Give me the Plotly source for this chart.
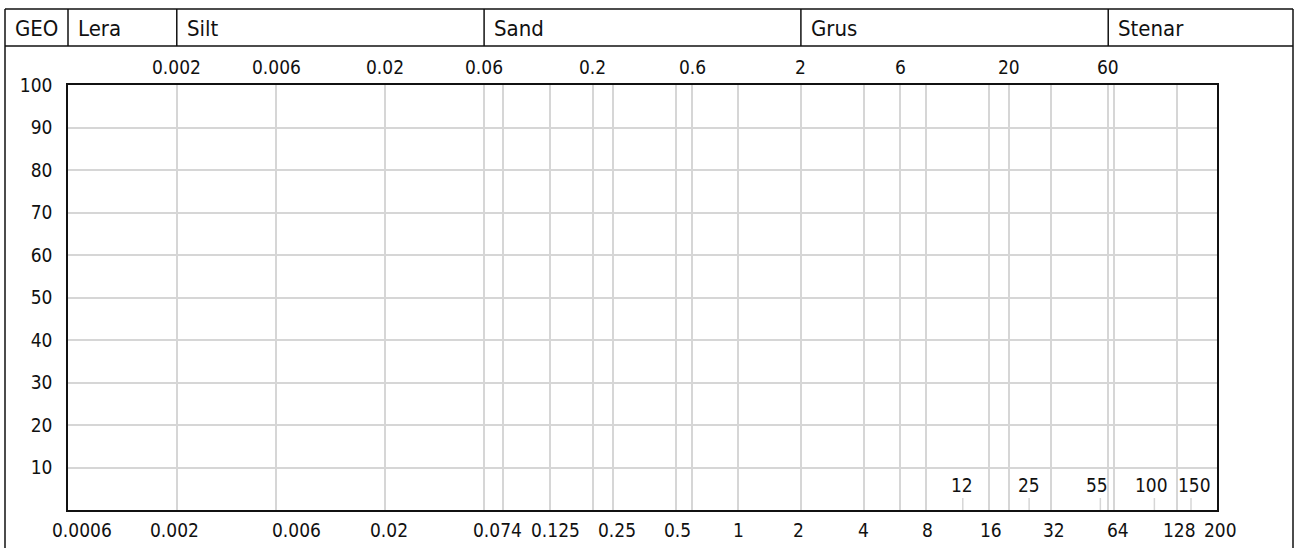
import numpy as np
import plotly.graph_objects as go

# Grain-size chart (sieve analysis) - empty template
x_min, x_max = 0.0006, 200

# vertical grid lines at the standard sieve / fraction sizes (mm)
grid_sizes = [0.002, 0.006, 0.02, 0.06, 0.074, 0.125, 0.2, 0.25, 0.5, 0.6,
              1, 2, 4, 6, 8, 16, 20, 32, 60, 64, 128]

# labels along the top edge (fraction limits)
top_sizes = [0.002, 0.006, 0.02, 0.06, 0.2, 0.6, 2, 6, 20, 60]
top_text = ["0.002", "0.006", "0.02", "0.06", "0.2", "0.6", "2", "6", "20", "60"]

# labels along the bottom edge (sieve sizes)
bottom_sizes = [0.0006, 0.002, 0.006, 0.02, 0.074, 0.125, 0.25, 0.5, 1, 2,
                4, 8, 16, 32, 64, 128, 200]
bottom_text = ["0.0006", "0.002", "0.006", "0.02", "0.074", "0.125", "0.25",
               "0.5", "1", "2", "4", "8", "16", "32", "64", "128", "200"]
bottom_shift = [14, -2, 20, 4, -6, 5, 4, 2, 0, -2, 0, 1, 2, 3, 4, 3, 3]

# extra sieves marked with short ticks inside the plot
sieve_sizes = [12, 25, 55, 100, 150]
sieve_text = ["12", "25", "55", "100", "150"]
sieve_shift = [-1, 0, -3, -3, 3]

# soil fractions in the header row
fraction_names = ["Lera", "Silt", "Sand", "Grus", "Stenar"]
fraction_lower = [0.0006, 0.002, 0.06, 2, 60]

y_ticks = [10, 20, 30, 40, 50, 60, 70, 80, 90, 100]

FONT = "DejaVu Sans Condensed"
NUM_SIZE = 19
HEAD_SIZE = 22
INK = "#111111"
GRID = "#d6d6d6"

fig = go.Figure()

# invisible trace to anchor the axes
fig.add_trace(go.Scatter(x=[x_min, x_max], y=[0, 100], mode="markers",
                         marker=dict(opacity=0), hoverinfo="skip",
                         showlegend=False))

fig.update_layout(
    width=1295, height=548,
    margin=dict(l=68, r=78, t=85, b=38),
    paper_bgcolor="white", plot_bgcolor="white",
    showlegend=False,
    font=dict(family=FONT, size=NUM_SIZE, color=INK),
    xaxis=dict(type="log", range=[np.log10(x_min), np.log10(x_max)],
               tickvals=grid_sizes, showticklabels=False, ticks="",
               showgrid=True, gridcolor=GRID, gridwidth=1.5,
               showline=True, linecolor=INK, linewidth=1.6, mirror=True,
               zeroline=False),
    yaxis=dict(range=[0, 100], tickvals=y_ticks,
               ticktext=[str(v) for v in y_ticks], ticks="",
               ticklabelstandoff=10,
               showgrid=True, gridcolor=GRID, gridwidth=1.5,
               showline=True, linecolor=INK, linewidth=1.6, mirror=True,
               zeroline=False,
               tickfont=dict(family=FONT, size=NUM_SIZE, color=INK)),
)

annotations = []
shapes = []

# top labels
for v, t in zip(top_sizes, top_text):
    annotations.append(dict(x=np.log10(v), y=1, xref="x", yref="paper",
                            text=t, showarrow=False, xanchor="center",
                            yanchor="bottom", yshift=5,
                            font=dict(family=FONT, size=NUM_SIZE, color=INK)))

# bottom labels
for v, t, s in zip(bottom_sizes, bottom_text, bottom_shift):
    annotations.append(dict(x=np.log10(v), y=0, xref="x", yref="paper",
                            text=t, showarrow=False, xanchor="center",
                            yanchor="top", yshift=-7, xshift=s,
                            font=dict(family=FONT, size=NUM_SIZE, color=INK)))

# short sieve ticks with labels
for v, t, s in zip(sieve_sizes, sieve_text, sieve_shift):
    shapes.append(dict(type="line", xref="x", yref="paper", x0=v, x1=v,
                       ysizemode="pixel", yanchor=0, y0=0, y1=12,
                       line=dict(color=GRID, width=1.5)))
    annotations.append(dict(x=np.log10(v), y=0, xref="x", yref="paper",
                            text=t, showarrow=False, xanchor="center",
                            yanchor="bottom", yshift=12, xshift=s,
                            font=dict(family=FONT, size=NUM_SIZE, color=INK)))

# outer frame and header row
frame = dict(color=INK, width=1.5)
# left and right frame edges
shapes.append(dict(type="line", xref="paper", yref="paper",
                   xsizemode="pixel", xanchor=0, x0=-63, x1=-63,
                   ysizemode="pixel", yanchor=0, y0=-40, y1=501, line=frame))
shapes.append(dict(type="line", xref="paper", yref="paper",
                   xsizemode="pixel", xanchor=1, x0=76, x1=76,
                   ysizemode="pixel", yanchor=0, y0=-40, y1=501, line=frame))
# header top and bottom lines
for yp in (76, 39):
    shapes.append(dict(type="line", xref="paper", yref="paper",
                       xsizemode="pixel", xanchor=0, x0=-63, x1=1225,
                       ysizemode="pixel", yanchor=1, y0=yp, y1=yp, line=frame))
# GEO / Lera divider at the axis start
shapes.append(dict(type="line", xref="paper", yref="paper", x0=0, x1=0,
                   ysizemode="pixel", yanchor=1, y0=39, y1=76, line=frame))
# fraction dividers
for v in fraction_lower[1:]:
    shapes.append(dict(type="line", xref="x", yref="paper", x0=v, x1=v,
                       ysizemode="pixel", yanchor=1, y0=39, y1=76, line=frame))

# header texts
annotations.append(dict(x=0, y=1, xref="paper", yref="paper", text="GEO",
                        showarrow=False, xanchor="left", yanchor="middle",
                        xshift=-55, yshift=57,
                        font=dict(family=FONT, size=HEAD_SIZE, color=INK)))
for name, v in zip(fraction_names, fraction_lower):
    annotations.append(dict(x=np.log10(v), y=1, xref="x", yref="paper",
                            text=name, showarrow=False, xanchor="left",
                            yanchor="middle", xshift=8, yshift=57,
                            font=dict(family=FONT, size=HEAD_SIZE, color=INK)))

fig.update_layout(annotations=annotations, shapes=shapes)

fig.write_html("out.html")
